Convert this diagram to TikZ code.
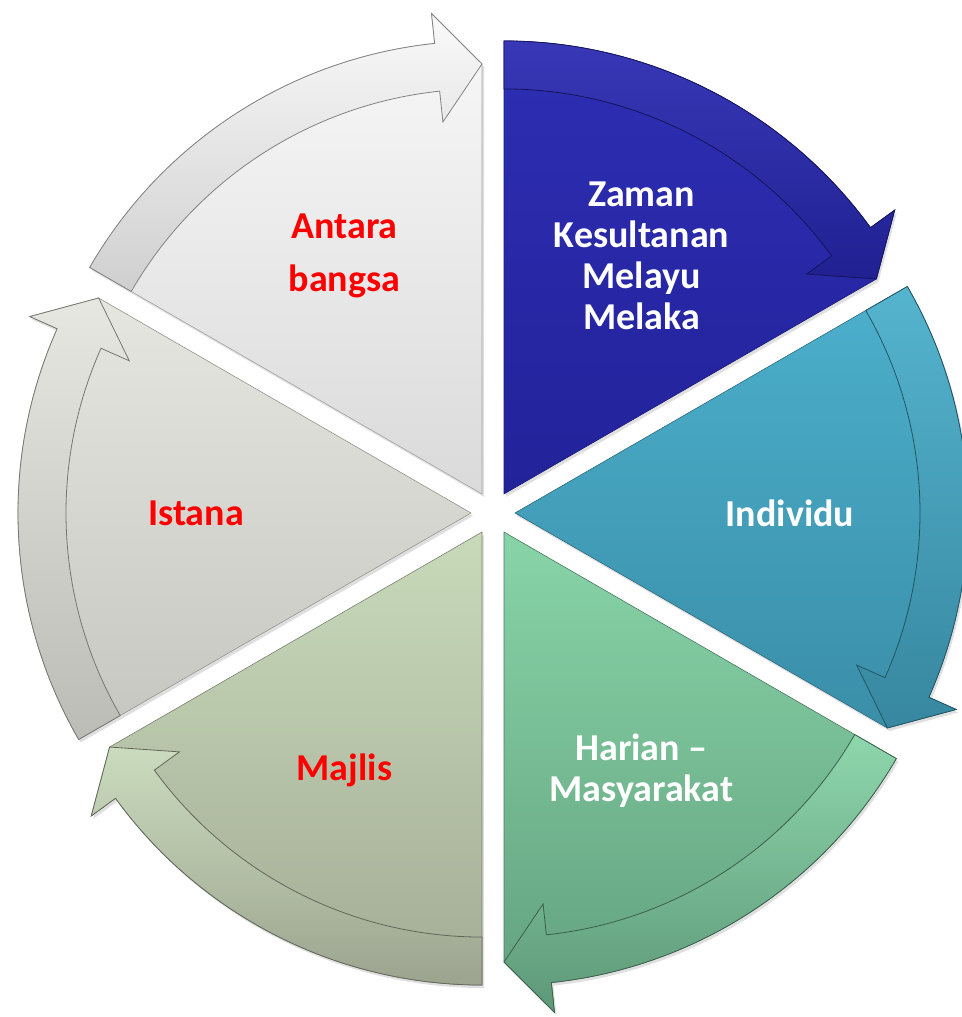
\documentclass[tikz,border=0pt]{standalone}
\usepackage{fontspec}
\setmainfont{Carlito}
\usetikzlibrary{shadows}

\definecolor{zamanTop}{HTML}{2E2EB4}
\definecolor{zamanBot}{HTML}{22229A}
\definecolor{indTop}{HTML}{4CB0CC}
\definecolor{indBot}{HTML}{3A8EA8}
\definecolor{harTop}{HTML}{88D4A8}
\definecolor{harBot}{HTML}{62A07E}
\definecolor{majTop}{HTML}{C8DABA}
\definecolor{majBot}{HTML}{A4AC96}
\definecolor{istTop}{HTML}{E6E6E0}
\definecolor{istBot}{HTML}{C6C6C0}
\definecolor{antTop}{HTML}{F9F9F9}
\definecolor{antBot}{HTML}{DADADA}

\tikzset{
  segbody/.style={line width=0.6pt, drop shadow={opacity=0.25, shadow xshift=2pt, shadow yshift=-3pt}},
  segband/.style={line width=0.8pt},
  segtext/.style={font=\bfseries\fontsize{38}{41}\selectfont, align=center},
}

\begin{document}
\begin{tikzpicture}[x=1pt,y=1pt]
\useasboundingbox (0,0) rectangle (961,1017);
\coordinate (c) at (493,504);

% the six segments, each pushed out from the centre along its middle
\foreach \m/\ctop/\cbot/\tc/\nm/\lab in {
    60/zamanTop/zamanBot/white/zaman/{Zaman\\Kesultanan\\Melayu\\Melaka},
    0/indTop/indBot/white/individu/{Individu},
    -60/harTop/harBot/white/harian/{Harian –\\Masyarakat},
    -120/majTop/majBot/red/majlis/{Majlis},
    180/istTop/istBot/red/istana/{Istana},
    120/antTop/antBot/red/antara/{Antara\\[12pt]bangsa}}
{
  \begin{scope}[shift={(c)}, shift={(\m:22)}]
    \pgfmathsetmacro\s{\m+30}
    \pgfmathsetmacro\e{\m-30}
    \pgfmathsetmacro\b{\m-24}
    % body of the segment
    \path[segbody, top color=\ctop, bottom color=\cbot, draw=\cbot!75!black]
      (0,0) -- (\s:453) arc[start angle=\s, end angle=\b, radius=453]
      -- (\b:483) -- (\e:430) -- cycle;
    % curved arrow along the rim
    \path[segband, top color=\ctop!95!white, bottom color=\cbot!95!black, draw=\cbot!60!black]
      (\s:405) arc[start angle=\s, end angle=\b, radius=405] -- (\b:374) -- (\e:430)
      -- (\b:483) -- (\b:453) arc[start angle=\b, end angle=\s, radius=453] -- cycle;
    \node[segtext, text=\tc] (\nm) at (\m:275) {\lab};
  \end{scope}
}
\end{tikzpicture}
\end{document}
